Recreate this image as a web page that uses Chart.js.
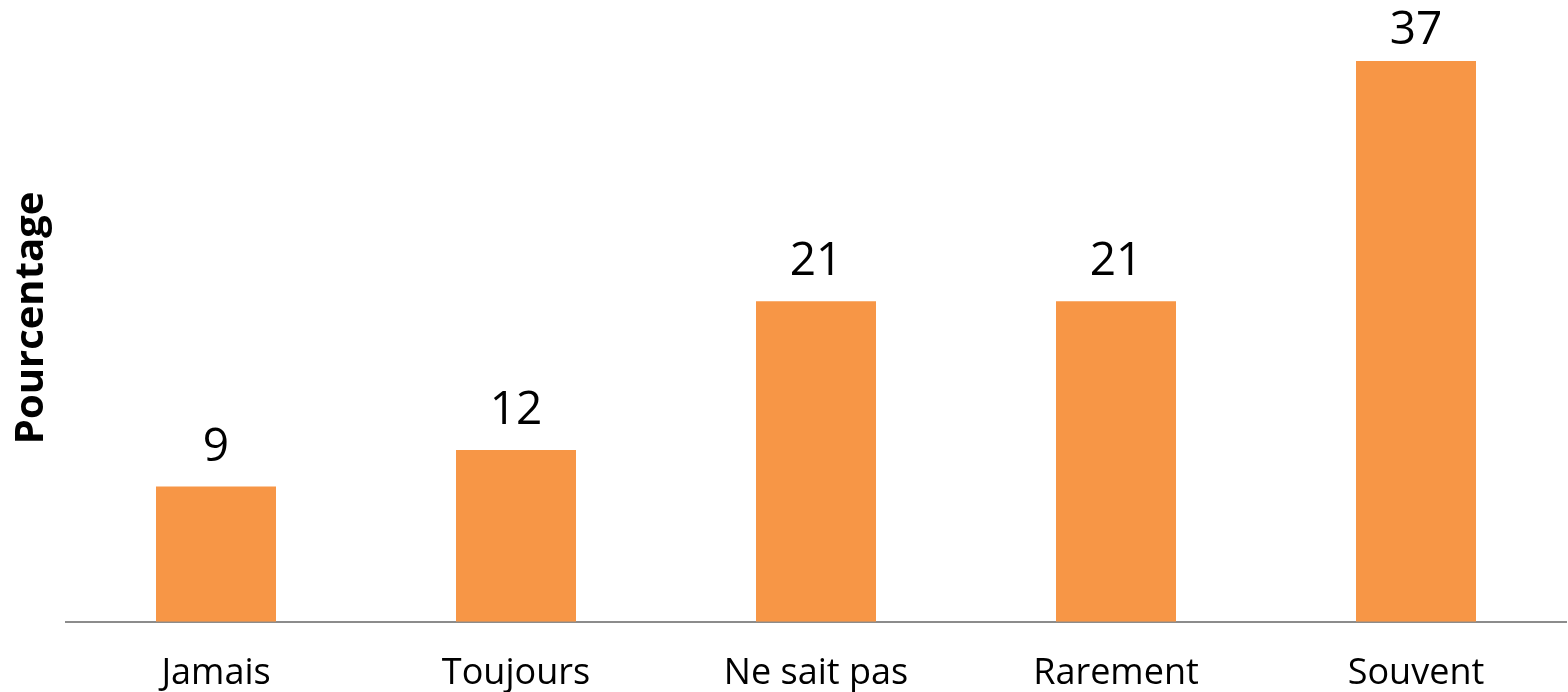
<!DOCTYPE html>
<html>
<head>
<meta charset="utf-8">
<script src="https://cdn.jsdelivr.net/npm/chart.js@4/dist/chart.umd.min.js"></script>
<style>
  html, body { margin: 0; padding: 0; background: #fff; }
  #wrap { width: 1568px; height: 692px; }
</style>
</head>
<body>
<div id="wrap"><canvas id="chart-reponses"></canvas></div>
<script>
// Données
const categories = ['Jamais', 'Toujours', 'Ne sait pas', 'Rarement', 'Souvent'];
const pourcentages = [8.9, 11.3, 21.1, 21.1, 36.9];
const etiquettes = ['9', '12', '21', '21', '37'];

// Étiquettes de valeur au-dessus des barres
const valeursPlugin = {
    id: 'valeurs',
    afterDatasetsDraw(chart) {
        const ctx = chart.ctx;
        const meta = chart.getDatasetMeta(0);
        ctx.save();
        ctx.font = '46px "Open Sans", sans-serif';
        ctx.fillStyle = '#000';
        ctx.textAlign = 'center';
        ctx.textBaseline = 'alphabetic';
        meta.data.forEach((bar, i) => {
            const y = Math.max(bar.y - 26, chart.chartArea.top + 30);
            ctx.fillText(etiquettes[i], bar.x, y);
        });
        ctx.restore();
    }
};

const ctx = document.getElementById('chart-reponses').getContext('2d');
const chart = new Chart(ctx, {
    type: 'bar',
    data: {
        labels: categories,
        datasets: [{
            label: 'Pourcentage',
            data: pourcentages,
            backgroundColor: '#F79646',
            borderWidth: 0,
            categoryPercentage: 1,
            barPercentage: 0.4
        }]
    },
    options: {
        responsive: true,
        maintainAspectRatio: false,
        animation: false,
        layout: { padding: { top: 14, right: 2, left: 0, bottom: -33 } },
        plugins: {
            legend: { display: false },
            tooltip: { enabled: false }
        },
        scales: {
            x: {
                grid: { display: false, drawTicks: false },
                border: { display: true, color: '#8C8C8C', width: 2 },
                ticks: {
                    color: '#000',
                    padding: 30,
                    font: { family: '"Open Sans", sans-serif', size: 36 }
                }
            },
            y: {
                min: 0,
                max: 40,
                grid: { display: false, drawTicks: false },
                border: { display: false },
                ticks: { display: false },
                title: {
                    display: true,
                    text: 'Pourcentage',
                    color: '#000',
                    padding: { top: 8, bottom: 10 },
                    font: { family: '"Open Sans", sans-serif', size: 40, weight: 'bold' }
                }
            }
        }
    },
    plugins: [valeursPlugin]
});
</script>
</body>
</html>
